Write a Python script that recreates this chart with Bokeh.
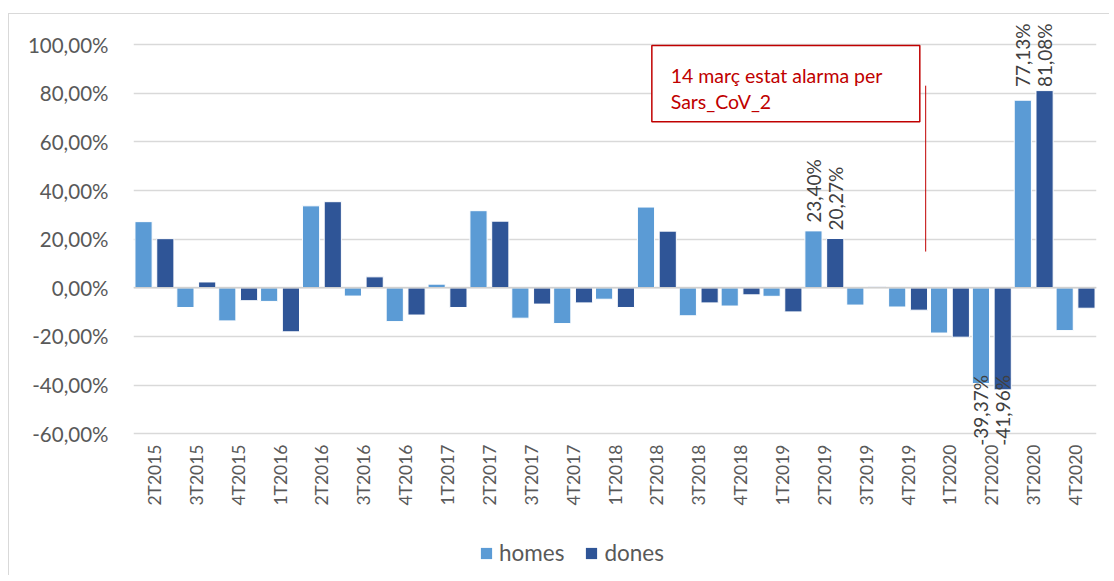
import math
from bokeh.plotting import figure
from bokeh.layouts import column
from bokeh.models import (ColumnDataSource, Range1d, FixedTicker, Legend, LegendItem,
                          BoxAnnotation, Label, Span)
from bokeh.core.properties import value
from bokeh.embed import file_html
from bokeh.resources import INLINE

categories = ["2T2015", "3T2015", "4T2015", "1T2016", "2T2016", "3T2016", "4T2016",
              "1T2017", "2T2017", "3T2017", "4T2017", "1T2018", "2T2018", "3T2018",
              "4T2018", "1T2019", "2T2019", "3T2019", "4T2019", "1T2020", "2T2020",
              "3T2020", "4T2020"]
homes = [27.2, -8.1, -13.6, -5.6, 33.7, -3.4, -13.9, 1.5, 31.7, -12.5, -14.7, -4.7,
         33.2, -11.5, -7.5, -3.5, 23.40, -7.1, -7.9, -18.6, -39.37, 77.13, -17.6]
dones = [20.2, 2.4, -5.3, -18.1, 35.4, 4.5, -11.2, -8.1, 27.4, -6.7, -6.2, -8.1,
         23.3, -6.2, -2.9, -9.9, 20.27, 0.4, -9.2, -20.3, -41.96, 81.08, -8.4]
labelled = ["2T2019", "2T2020", "3T2020"]
y_ticks = [-60, -40, -20, 0, 20, 40, 60, 80, 100]
series_names = ["homes", "dones"]
note_lines = ["14 març estat alarma per", "Sars_CoV_2"]

FONT = "Lato"
C_HOMES = "#5B9BD5"
C_DONES = "#2F5597"
RED = "#C00000"
GRAY_TXT = "#595959"

Y_TOP, Y_BOT = 109.9, -65.25       # plot area edges (labels may use the space)
n = len(categories)
idx = list(range(n))
off = 0.26
bw = 0.41

src_h = ColumnDataSource(dict(x=[i + 0.5 - off for i in idx], top=homes))
src_d = ColumnDataSource(dict(x=[i + 0.5 + off for i in idx], top=dones))

p = figure(width=1100, height=516, output_backend="svg", toolbar_location=None,
           x_range=Range1d(0, n), y_range=Range1d(Y_BOT, Y_TOP),
           min_border_left=124, min_border_right=13, min_border_top=6,
           min_border_bottom=84)
p.outline_line_color = None
p.background_fill_color = "white"
p.border_fill_color = "white"

p.xgrid.grid_line_color = None
p.ygrid.ticker = FixedTicker(ticks=y_ticks)
p.ygrid.grid_line_color = "#D9D9D9"
p.ygrid.grid_line_width = 1.3

rh = p.vbar(x="x", top="top", bottom=0, width=bw, source=src_h,
            fill_color=C_HOMES, line_color="white", line_width=1)
rd = p.vbar(x="x", top="top", bottom=0, width=bw, source=src_d,
            fill_color=C_DONES, line_color="white", line_width=1)
p.add_layout(Span(location=0, dimension="width", line_color="#D0D0D0", line_width=1.5))

# data labels (outside end, pinned to the plot-area edge when they would not fit)
LBL_LEN = 26.0
lx, ly, lt, la = [], [], [], []
for i, c in enumerate(categories):
    if c in labelled:
        for v, dx in ((homes[i], -off), (dones[i], off)):
            lx.append(i + 0.5 + dx)
            if v >= 0:
                if v + 3.3 + LBL_LEN > 100:
                    ly.append(Y_TOP - 1.2); la.append("right")
                else:
                    ly.append(v + 3.3); la.append("left")
            else:
                if v - 3.3 - LBL_LEN < -60:
                    ly.append(Y_BOT + 0.3); la.append("left")
                else:
                    ly.append(v - 3.3); la.append("right")
            lt.append(f"{v:.2f}%".replace(".", ","))
src_l = ColumnDataSource(dict(x=lx, y=ly, t=lt, a=la))
p.text(x="x", y="y", text="t", angle=math.pi / 2, text_align="a",
       text_baseline="middle", source=src_l, text_font=value(FONT),
       text_font_size="19px", text_color="#404040")

# axes
p.xaxis.ticker = FixedTicker(ticks=[i + 0.5 for i in idx])
p.xaxis.major_label_overrides = {i + 0.5: c for i, c in enumerate(categories)}
p.xaxis.major_label_orientation = math.pi / 2
p.xaxis.axis_line_color = None
p.xaxis.major_tick_line_color = None
p.xaxis.minor_tick_line_color = None
p.xaxis.major_label_standoff = -8
p.xaxis.major_label_text_font = FONT
p.xaxis.major_label_text_font_size = "17.5px"
p.xaxis.major_label_text_color = GRAY_TXT

p.yaxis.ticker = FixedTicker(ticks=y_ticks)
p.yaxis.major_label_overrides = {t: f"{t:.2f}%".replace(".", ",") for t in y_ticks}
p.yaxis.axis_line_color = None
p.yaxis.major_tick_line_color = None
p.yaxis.minor_tick_line_color = None
p.yaxis.major_label_standoff = 19
p.yaxis.major_label_text_font = FONT
p.yaxis.major_label_text_font_size = "20.5px"
p.yaxis.major_label_text_color = GRAY_TXT

# annotation
p.add_layout(BoxAnnotation(left=12.38, right=18.78, top=99.6, bottom=68.3,
                           fill_color="white", fill_alpha=1.0,
                           line_color=RED, line_alpha=1.0, line_width=1.5))
p.add_layout(Label(x=12.83, y=87.3, text=note_lines[0], text_font=FONT,
                   text_font_size="19.5px", text_color=RED, text_baseline="alphabetic"))
p.add_layout(Label(x=12.83, y=76.6, text=note_lines[1], text_font=FONT,
                   text_font_size="19.5px", text_color=RED, text_baseline="alphabetic"))
p.segment(x0=[18.92], y0=[14.9], x1=[18.92], y1=[83.1], line_color=RED, line_width=1)

# legend strip (its frame is aligned with the chart's frame by the column layout)
lp = figure(width=1100, height=45, output_backend="svg", toolbar_location=None,
            x_range=Range1d(0, 1), y_range=Range1d(0, 1),
            x_axis_location=None, y_axis_location=None,
            min_border_left=0, min_border_right=0, min_border_top=0,
            min_border_bottom=0)
lp.outline_line_color = None
lp.grid.grid_line_color = None
lp.grid.visible = False
lp.background_fill_color = "white"
lp.border_fill_color = "white"
swatch = dict(x=[0.5], top=[0.0])    # zero-height bar: only the legend swatch shows
lh = lp.vbar(x="x", top="top", bottom=0, width=0.1, source=ColumnDataSource(swatch),
             fill_color=C_HOMES, line_color=None)
ld = lp.vbar(x="x", top="top", bottom=0, width=0.1, source=ColumnDataSource(swatch),
             fill_color=C_DONES, line_color=None)
legend = Legend(items=[LegendItem(label=series_names[0], renderers=[lh]),
                       LegendItem(label=series_names[1], renderers=[ld])],
                location=(346, 9), orientation="horizontal",
                padding=0, margin=0, spacing=20, label_standoff=6,
                glyph_width=14, glyph_height=14,
                label_text_font=FONT, label_text_font_size="22.5px",
                label_text_color=GRAY_TXT, border_line_color=None,
                background_fill_alpha=0)
lp.add_layout(legend)

layout = column(p, lp, spacing=0)
layout.styles = {"margin-left": "8px", "margin-top": "13px",
                 "border-left": "1px solid #D9D9D9", "border-top": "1px solid #D9D9D9"}

open("out.html", "w").write(file_html(layout, INLINE))
